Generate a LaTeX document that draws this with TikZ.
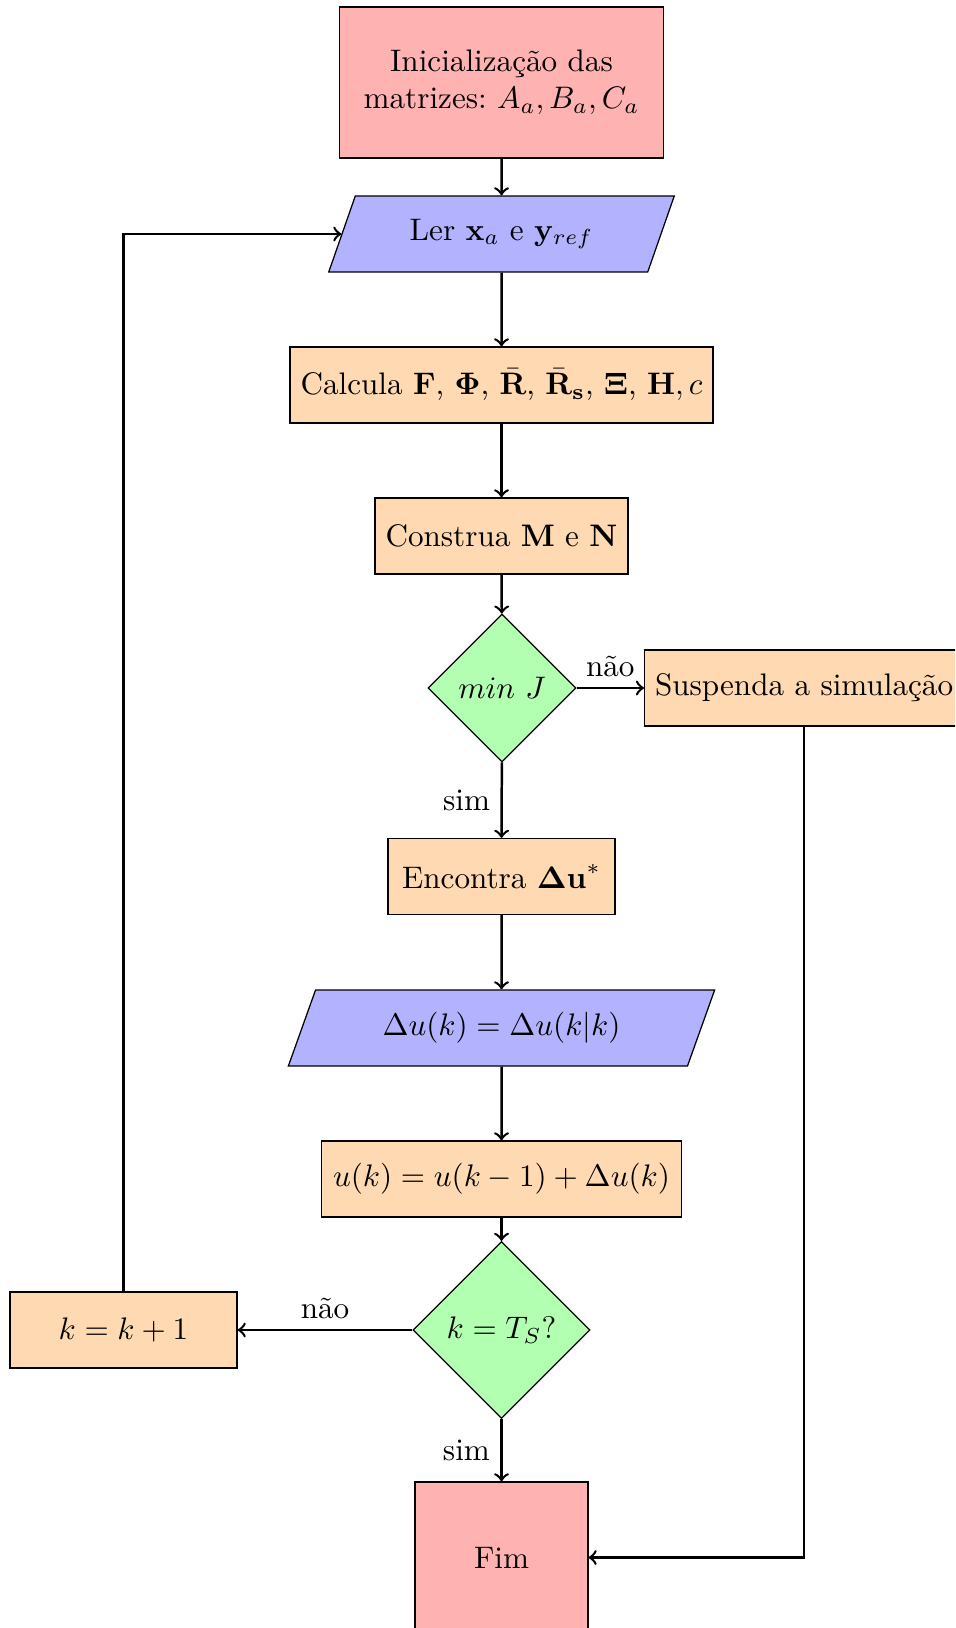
\documentclass[tikz,border=0pt]{standalone}
\usetikzlibrary{shapes.geometric}
\begin{document}
\tikzset{
 startbox/.style={rectangle, draw, fill=red!30, align=center, minimum height=48.5pt},
 procbox/.style={rectangle, draw, fill=orange!30, minimum height=24.4pt},
 iobox/.style={trapezium, trapezium left angle=70, trapezium right angle=110, trapezium stretches=true, draw, fill=blue!30, minimum height=24.4pt},
 decbox/.style={diamond, draw, fill=green!30, aspect=1, inner sep=1pt},
 flow/.style={->, thick}
}
\begin{tikzpicture}[x=0.321pt,y=-0.321pt]
\clip (0,0) rectangle (955,1628);
\useasboundingbox (0,0) rectangle (955,1628);
\node[startbox, minimum width=104pt] (init) at (501.5,82.5) {Inicialização das\\matrizes:\ $A_a, B_a, C_a$};
\node[iobox, minimum width=111pt] (ler) at (501.5,234) {Ler $\mathbf{x}_a$ e $\mathbf{y}_{ref}$};
\node[procbox, minimum width=135.8pt] (calc) at (501.5,385) {Calcula $\mathbf{F}$, $\mathbf{\Phi}$, $\bar{\mathbf{R}}$, $\bar{\mathbf{R}}_\mathbf{s}$, $\mathbf{\Xi}$, $\mathbf{H}, c$};
\node[procbox, minimum width=81.2pt] (constr) at (501.5,536) {Construa $\mathbf{M}$ e $\mathbf{N}$};
\node[decbox, minimum size=47.5pt] (minj) at (502,688) {$min\ J$};
\node[procbox, anchor=west] (susp) at (644,688) {Suspenda a simulação};
\node[procbox, minimum width=72.9pt] (enc) at (501.5,876.5) {Encontra $\mathbf{\Delta u}^*$};
\node[iobox, minimum width=137pt] (du) at (501.5,1028) {$\Delta u(k) = \Delta u(k|k)$};
\node[procbox, minimum width=115.6pt] (uk) at (501.5,1179) {$u(k) = u(k-1) + \Delta u(k)$};
\node[decbox, minimum size=56.8pt] (kts) at (501.5,1330) {$k = T_S?$};
\node[procbox, minimum width=72.9pt] (kk) at (123.5,1330) {$k = k+1$};
\node[startbox, minimum width=55.5pt] (fim) at (501.5,1557.5) {Fim};
\draw[flow] (init) -- (ler);
\draw[flow] (ler) -- (calc);
\draw[flow] (calc) -- (constr);
\draw[flow] (constr) -- (minj);
\draw[flow] (minj) -- node[above] {não} (susp);
\draw[flow] (minj) -- node[left] {sim} (enc);
\draw[flow] (enc) -- (du);
\draw[flow] (du) -- (uk);
\draw[flow] (uk) -- (kts);
\draw[flow] (kts) -- node[above] {não} (kk);
\draw[flow] (kts) -- node[left] {sim} (fim);
\draw[flow] (kk.north) |- (ler.west);
\draw[flow] (susp.south) |- (fim.east);
\end{tikzpicture}
\end{document}
